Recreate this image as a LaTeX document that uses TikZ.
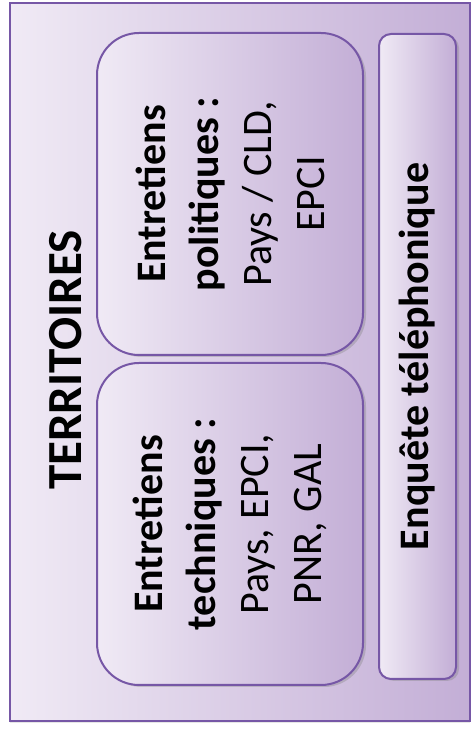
\documentclass[tikz,border=0pt]{standalone}
\usepackage{fontspec}
\setmainfont{Carlito}
\usetikzlibrary{shadows}

\definecolor{lilaclight}{HTML}{F0EAF5}
\definecolor{lilacdark}{HTML}{C3AED6}
\definecolor{lilacline}{HTML}{7657A6}

\begin{document}
\begin{tikzpicture}[x=1pt, y=1pt,
    frame/.style={draw=lilacline, line width=1.5pt, left color=lilaclight, right color=lilacdark,
        drop shadow={shadow xshift=0pt, shadow yshift=-2pt, opacity=0.2}},
    bigbox/.style={draw=lilacline, line width=2pt, rounded corners=42pt,
        left color=lilaclight, right color=lilacdark,
        drop shadow={shadow xshift=3pt, shadow yshift=-2pt, opacity=0.35},
        minimum width=266pt, minimum height=322pt},
    barbox/.style={draw=lilacline, line width=2pt, rounded corners=12pt,
        left color=lilaclight, right color=lilacdark,
        drop shadow={shadow xshift=3pt, shadow yshift=-2pt, opacity=0.35},
        minimum width=77pt, minimum height=645pt},
    vlabel/.style={rotate=90, align=center, font=\fontsize{42}{53}\selectfont}]

    \useasboundingbox (0,0) rectangle (471,731);

    % Outer frame
    \node[frame, minimum width=460pt, minimum height=718pt] (terr) at (240,369) {};

    % Title
    \node[rotate=90, font=\fontsize{49}{58}\selectfont\bfseries] (title) at (66,371) {TERRITOIRES};

    % The two interview boxes
    \node[bigbox] (pol) at (230,537) {};
    \node[bigbox] (tech) at (230,207) {};

    % Phone survey bar
    \node[barbox] (enq) at (417.5,374.5) {};

    % Texts
    \node[vlabel] (poltext) at (pol) {\textbf{Entretiens}\\\textbf{politiques :}\\Pays / CLD,\\EPCI};
    \node[vlabel] (techtext) at (tech) {\textbf{Entretiens}\\\textbf{techniques :}\\Pays, EPCI,\\PNR, GAL};
    \node[rotate=90, font=\fontsize{42}{50}\selectfont\bfseries] (enqtext) at (enq) {Enquête téléphonique};

\end{tikzpicture}
\end{document}
